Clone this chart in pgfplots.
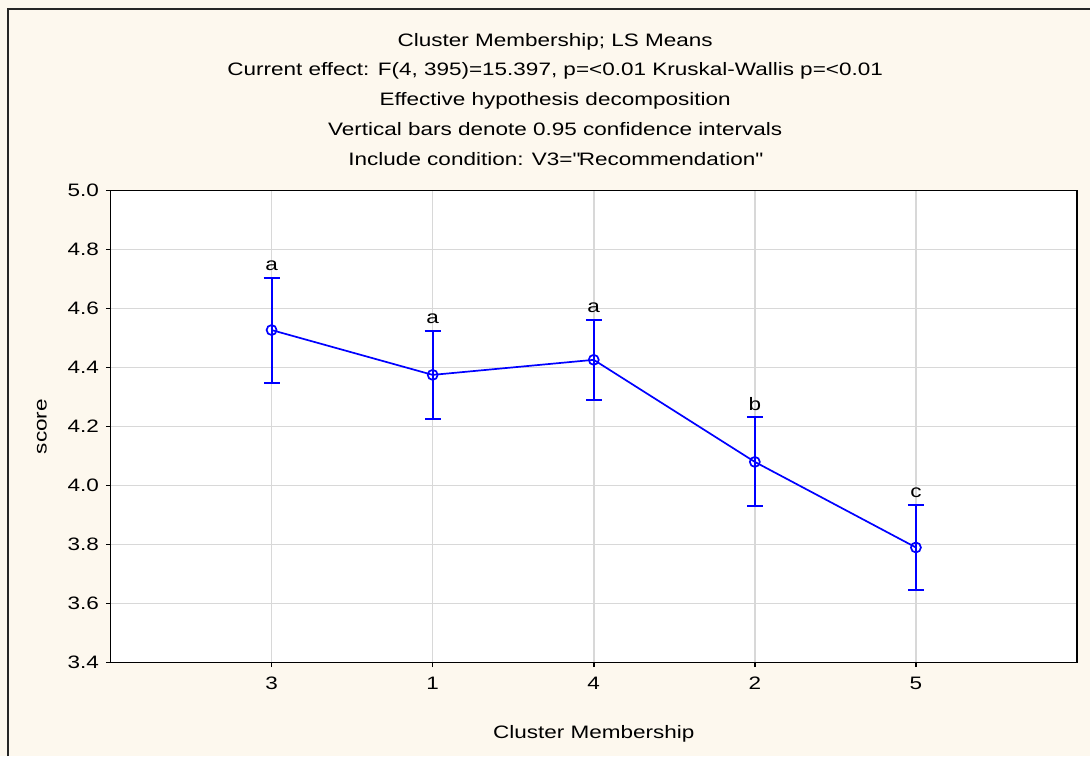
\documentclass[border=0pt]{standalone}
\usepackage{pgfplots}
\pgfplotsset{compat=1.18}
\usepackage{pgfplotstable}
\usepackage{fontspec}
\setmainfont{Liberation Sans}[FakeStretch=1.25]
\definecolor{bgc}{HTML}{FDF8EE}
\definecolor{gridc}{HTML}{D8D8D8}
\definecolor{blu}{HTML}{0000FF}
\pgfplotstableread{
x y err
0 4.527 0.178
1 4.375 0.150
2 4.426 0.136
3 4.080 0.151
4 3.790 0.145
}\means
\pgfplotstableread{
x y lab
0 4.704 a
1 4.525 a
2 4.562 a
3 4.231 b
4 3.935 c
}\letters
\begin{document}
\begin{tikzpicture}
\fill[bgc] (-55.25pt,-46.75pt) rectangle (489.75pt,331.25pt);
\path[use as bounding box] (-55.25pt,-46.75pt) rectangle (489.75pt,331.25pt);
\draw[line width=1pt, color=black!85] (-51pt,-46.75pt) -- (-51pt,326.75pt) -- (489.75pt,326.75pt);
\begin{axis}[
  at={(0,0)}, anchor=south west,
  scale only axis, width=483.25pt, height=236pt,
  xmin=-1, xmax=5, ymin=3.4, ymax=5.0,
  xtick={0,1,2,3,4}, xticklabels={3,1,4,2,5},
  ytick={3.4,3.6,3.8,4.0,4.2,4.4,4.6,4.8,5.0},
  yticklabel style={/pgf/number format/.cd, fixed, fixed zerofill, precision=1},
  xticklabel style={yshift=-1.5pt},
  /pgf/number format/assume math mode=true,
  grid=major, grid style={gridc, line width=0.75pt},
  axis background/.style={fill=white},
  axis line style={line width=0.75pt, black},
  tick style={black, line width=0.75pt}, tick align=outside, tick pos=left,
  major tick length=2.25pt,
  tick label style={font=\fontsize{9}{11}\selectfont},
  label style={font=\fontsize{9}{11}\selectfont},
  xlabel={Cluster Membership}, ylabel={score},
  xlabel style={at={(axis description cs:0.5,-0.16)}, anchor=base},
  ylabel style={at={(axis description cs:-0.066,0.5)}, anchor=base},
  clip=false,
]
\addplot[color=blu, line width=0.85pt, mark=o, mark size=2.5pt, mark options={blu},
  error bars/.cd, y dir=both, y explicit,
  error bar style={draw=blu, line width=1pt},
  error mark options={draw=blu, line width=1pt, mark size=4pt, rotate=90}]
  table[x=x, y=y, y error=err] {\means};
\addplot[draw=none, mark=none, nodes near coords, point meta=explicit symbolic,
  nodes near coords style={anchor=base, inner sep=0pt, yshift=3.5pt, black, font=\fontsize{9}{11}\selectfont}]
  table[x=x, y=y, meta=lab] {\letters};
\begin{scope}[every node/.style={anchor=base, font=\fontsize{9}{11}\selectfont, inner sep=0pt}]
\node at ([yshift=72.25pt]rel axis cs:0.46,1) {Cluster Membership; LS Means};
\node at ([yshift=57.4pt]rel axis cs:0.46,1) {Current effect: F(4, 395)=15.397, p=<0.01 Kruskal-Wallis p=<0.01};
\node at ([yshift=42.5pt]rel axis cs:0.46,1) {Effective hypothesis decomposition};
\node at ([yshift=27.65pt]rel axis cs:0.46,1) {Vertical bars denote 0.95 confidence intervals};
\node at ([yshift=12.75pt]rel axis cs:0.46,1) {Include condition: V3=\textquotedbl Recommendation\textquotedbl};
\end{scope}
\end{axis}
\end{tikzpicture}
\end{document}
